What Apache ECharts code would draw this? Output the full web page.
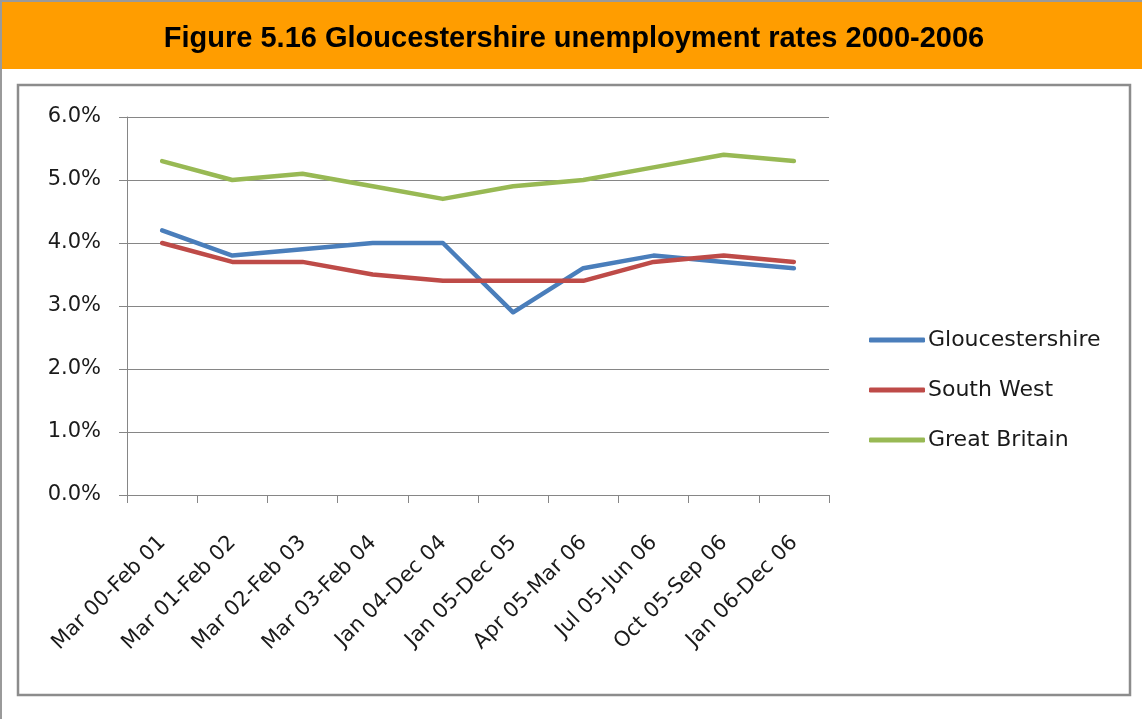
<!DOCTYPE html>
<html>
<head>
<meta charset="utf-8">
<script src="https://cdn.jsdelivr.net/npm/echarts@6/dist/echarts.min.js"></script>
<style>
html,body{margin:0;padding:0;background:#fff;}
#chart{width:1142px;height:719px;}
</style>
</head>
<body>
<div id="chart"></div>
<script>
const titleText = 'Figure 5.16 Gloucestershire unemployment rates 2000-2006';
const categories = ['Mar 00-Feb 01','Mar 01-Feb 02','Mar 02-Feb 03','Mar 03-Feb 04','Jan 04-Dec 04','Jan 05-Dec 05','Apr 05-Mar 06','Jul 05-Jun 06','Oct 05-Sep 06','Jan 06-Dec 06'];
const gloucestershire = [4.2, 3.8, 3.9, 4.0, 4.0, 2.9, 3.6, 3.8, 3.7, 3.6];
const southWest = [4.0, 3.7, 3.7, 3.5, 3.4, 3.4, 3.4, 3.7, 3.8, 3.7];
const greatBritain = [5.3, 5.0, 5.1, 4.9, 4.7, 4.9, 5.0, 5.2, 5.4, 5.3];
const yTicks = [0, 1, 2, 3, 4, 5, 6];

const chart = echarts.init(document.getElementById('chart'));
const font = '"DejaVu Sans", sans-serif';
const gray = '#868686';
chart.setOption({
  animation: false,
  backgroundColor: '#fff',
  graphic: [
    {type:'rect', shape:{x:0,y:0,width:1142,height:719}, style:{fill:'#fff'}, silent:true, z:-10},
    {type:'rect', shape:{x:1,y:1,width:1150,height:740}, style:{fill:'none', stroke:'#9a9a9a', lineWidth:2}, silent:true, z:-5},
    {type:'rect', shape:{x:2,y:2,width:1140,height:67}, style:{fill:'#FF9D00'}, silent:true, z:-4},
    {type:'text', x:574, y:39, style:{text:titleText, font:'bold 29px "Liberation Sans", Arial, sans-serif', fill:'#000', align:'center', verticalAlign:'middle'}, silent:true, z:5},
    {type:'rect', shape:{x:18,y:85,width:1112,height:610}, style:{fill:'#fff', stroke:'#8c8c8c', lineWidth:2.5}, silent:true, z:-3}
  ],
  grid: {left:127, right:313, top:117, bottom:224, containLabel:false},
  legend: {
    orient:'vertical', left:864, top:323, itemGap:26,
    icon:'roundRect', itemWidth:56, itemHeight:5,
    textStyle:{fontFamily:font, fontSize:22, color:'#1a1a1a', lineHeight:24, padding:[0,0,0,-2]},
    data:['Gloucestershire','South West','Great Britain']
  },
  xAxis: {
    type:'category', data:categories, boundaryGap:true,
    axisLine:{lineStyle:{color:gray, width:1}},
    axisTick:{show:true, length:8, alignWithLabel:false, lineStyle:{color:gray}},
    axisLabel:{rotate:45, interval:0, margin:30, verticalAlign:'top', padding:[0,10,0,0], fontFamily:font, fontSize:21, color:'#1a1a1a'},
    splitLine:{show:false}
  },
  yAxis: {
    type:'value', min:yTicks[0], max:yTicks[yTicks.length-1], interval:1,
    axisLine:{show:true, lineStyle:{color:gray, width:1}},
    axisTick:{show:true, length:8, lineStyle:{color:gray}},
    axisLabel:{margin:26, fontFamily:font, fontSize:21, color:'#1a1a1a', formatter:v=>v.toFixed(1)+'%'},
    splitLine:{show:true, lineStyle:{color:gray, width:1}}
  },
  series: [
    {name:'Gloucestershire', type:'line', data:gloucestershire, symbol:'none', color:'#4A7EBB', lineStyle:{width:4.5, color:'#4A7EBB', cap:'round', join:'round'}},
    {name:'South West', type:'line', data:southWest, symbol:'none', color:'#BE4B48', lineStyle:{width:4.5, color:'#BE4B48', cap:'round', join:'round'}},
    {name:'Great Britain', type:'line', data:greatBritain, symbol:'none', color:'#98B954', lineStyle:{width:4.5, color:'#98B954', cap:'round', join:'round'}}
  ]
});
</script>
</body>
</html>
